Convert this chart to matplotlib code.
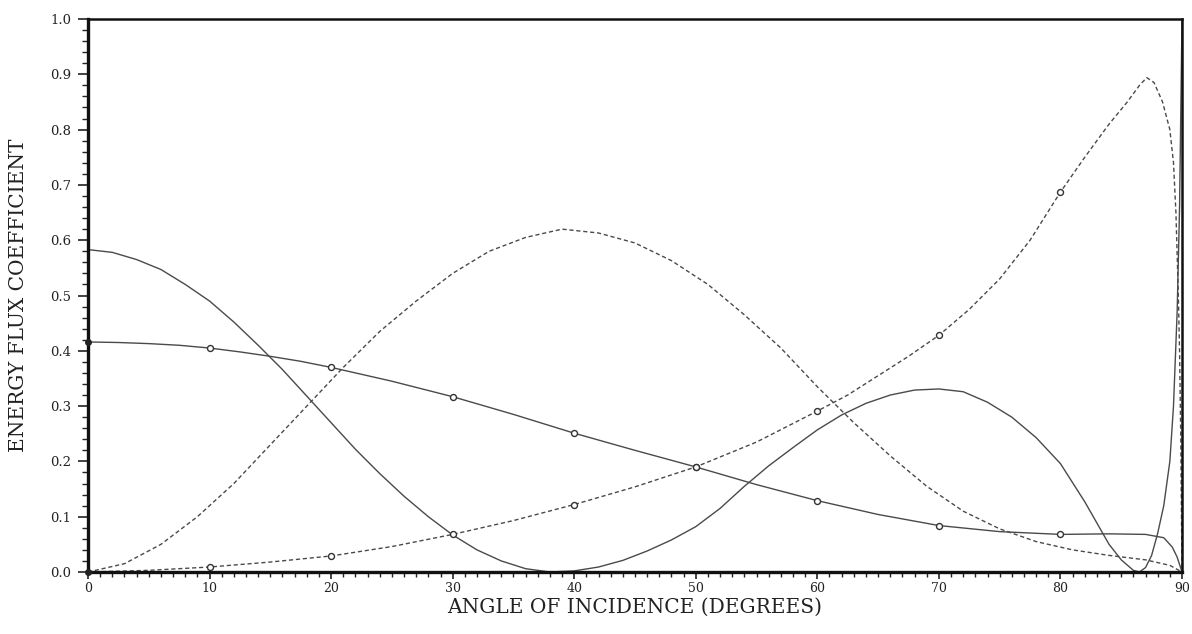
import matplotlib
matplotlib.use("Agg")
import matplotlib.pyplot as plt
from matplotlib.ticker import MultipleLocator

# Angle of incidence (degrees) and energy flux coefficients
refl_p_deg = [0, 2, 4, 6, 8, 10, 12, 14, 16, 18, 20, 22, 24, 26, 28, 30, 32, 34,
              36, 38, 40, 42, 44, 46, 48, 50, 52, 54, 56, 58, 60, 62, 64, 66, 68,
              70, 72, 74, 76, 78, 80, 82, 84, 85, 86, 86.5, 87, 87.5, 88, 88.5,
              89, 89.3, 89.6, 89.8, 90]
refl_p_val = [0.583, 0.578, 0.565, 0.547, 0.52, 0.49, 0.452, 0.41, 0.366, 0.318,
              0.27, 0.222, 0.178, 0.137, 0.10, 0.067, 0.04, 0.02, 0.006, 0.0,
              0.002, 0.009, 0.021, 0.038, 0.058, 0.082, 0.115, 0.155, 0.192,
              0.225, 0.257, 0.284, 0.305, 0.32, 0.329, 0.331, 0.326, 0.307, 0.28,
              0.243, 0.196, 0.127, 0.05, 0.022, 0.003, 0.0, 0.008, 0.03, 0.07,
              0.12, 0.2, 0.3, 0.47, 0.66, 1.0]

refl_s_deg = [0, 2.5, 5, 7.5, 10, 12.5, 15, 17.5, 20, 25, 30, 35, 40, 45, 50, 55,
              60, 65, 70, 75, 80, 84, 87, 88.5, 89.2, 89.6, 90]
refl_s_val = [0.416, 0.415, 0.413, 0.41, 0.405, 0.398, 0.39, 0.381, 0.37, 0.345,
              0.317, 0.285, 0.251, 0.22, 0.19, 0.158, 0.129, 0.104, 0.084, 0.073,
              0.068, 0.069, 0.068, 0.062, 0.045, 0.027, 0.0]
refl_s_mark_deg = [10, 20, 30, 40, 50, 60, 70, 80]
refl_s_mark_val = [0.405, 0.37, 0.317, 0.251, 0.19, 0.129, 0.084, 0.068]

trans_p_deg = [0, 3, 6, 9, 12, 15, 18, 21, 24, 27, 30, 33, 36, 39, 42, 45, 48,
               51, 54, 57, 60, 63, 66, 69, 72, 75, 78, 81, 84, 87, 89, 90]
trans_p_val = [0.0, 0.015, 0.05, 0.10, 0.16, 0.23, 0.30, 0.37, 0.435, 0.49,
               0.54, 0.58, 0.605, 0.62, 0.613, 0.595, 0.563, 0.52, 0.465, 0.405,
               0.335, 0.27, 0.21, 0.155, 0.11, 0.078, 0.055, 0.04, 0.03, 0.022,
               0.012, 0.0]

trans_s_deg = [0, 5, 10, 15, 20, 25, 30, 35, 40, 45, 50, 55, 60, 62.5, 65, 67.5,
               70, 72.5, 75, 77.5, 80, 82, 84, 85.5, 86.5, 87.1, 87.7, 88.4, 89.0,
               89.3, 89.5, 89.7, 89.8, 89.9, 90]
trans_s_val = [0.0, 0.003, 0.009, 0.018, 0.029, 0.046, 0.068, 0.093, 0.122, 0.154,
               0.19, 0.235, 0.291, 0.32, 0.355, 0.39, 0.428, 0.475, 0.53, 0.6,
               0.687, 0.75, 0.81, 0.85, 0.88, 0.894, 0.885, 0.85, 0.80, 0.74,
               0.65, 0.5, 0.4, 0.24, 0.0]
trans_s_mark_deg = [10, 20, 30, 40, 50, 60, 70, 80]
trans_s_mark_val = [0.009, 0.029, 0.068, 0.122, 0.19, 0.291, 0.428, 0.687]

x_ticks = [0, 10, 20, 30, 40, 50, 60, 70, 80, 90]
y_ticks = [0.0, 0.1, 0.2, 0.3, 0.4, 0.5, 0.6, 0.7, 0.8, 0.9, 1.0]

W, H = 1192, 634
fig = plt.figure(figsize=(W / 100, H / 100), dpi=100)
ax = fig.add_axes([88 / W, 1 - 572 / H, (1182 - 88) / W, (572 - 19) / H])

line_col = "#4a4a4a"
dash = (0, (3.0, 2.0))

ax.plot(refl_p_deg, refl_p_val, color=line_col, lw=1.0)
ax.plot(refl_s_deg, refl_s_val, color=line_col, lw=1.0)
ax.plot(trans_p_deg, trans_p_val, color=line_col, lw=1.0, linestyle=dash)
ax.plot(trans_s_deg, trans_s_val, color=line_col, lw=1.0, linestyle=dash)

ax.plot(refl_s_mark_deg, refl_s_mark_val, linestyle="none", marker="o", ms=4.3,
        mfc="white", mec="#333333", mew=1.0)
ax.plot(trans_s_mark_deg, trans_s_mark_val, linestyle="none", marker="o", ms=4.3,
        mfc="white", mec="#333333", mew=1.0)
ax.plot([0, 0], [refl_s_val[0], trans_s_val[0]], linestyle="none", marker="o",
        ms=4, color="#222222", clip_on=False, zorder=5)

ax.set_xlim(0, 90)
ax.set_ylim(0, 1.0)

ax.set_xticks(x_ticks)
ax.set_yticks(y_ticks)
ax.set_xticklabels([str(v) for v in x_ticks])
ax.set_yticklabels([f"{v:.1f}" for v in y_ticks])
ax.xaxis.set_minor_locator(MultipleLocator(1))
ax.yaxis.set_minor_locator(MultipleLocator(0.02))

ax.tick_params(axis="x", which="major", direction="out", length=5, width=1.2,
               pad=2, labelsize=9, colors="#222222")
ax.tick_params(axis="x", which="minor", direction="out", length=3.5, width=1.0,
               colors="#222222")
ax.tick_params(axis="y", which="major", direction="out", length=7, width=1.2,
               pad=5, labelsize=9.5, colors="#222222")
ax.tick_params(axis="y", which="minor", direction="out", length=4, width=1.0,
               colors="#222222")
for lab in ax.get_xticklabels() + ax.get_yticklabels():
    lab.set_family("DejaVu Serif")

for side in ("left", "bottom"):
    ax.spines[side].set_linewidth(2.4)
for side in ("top", "right"):
    ax.spines[side].set_linewidth(1.8)
for sp in ax.spines.values():
    sp.set_color("#111111")

ax.set_xlabel("ANGLE OF INCIDENCE (DEGREES)", family="DejaVu Serif",
              fontsize=14.5, color="#222222", labelpad=2)
ax.set_ylabel("ENERGY FLUX COEFFICIENT", family="DejaVu Serif",
              fontsize=14.5, color="#222222", labelpad=16)

fig.savefig("out.png", dpi=100, facecolor="white")
